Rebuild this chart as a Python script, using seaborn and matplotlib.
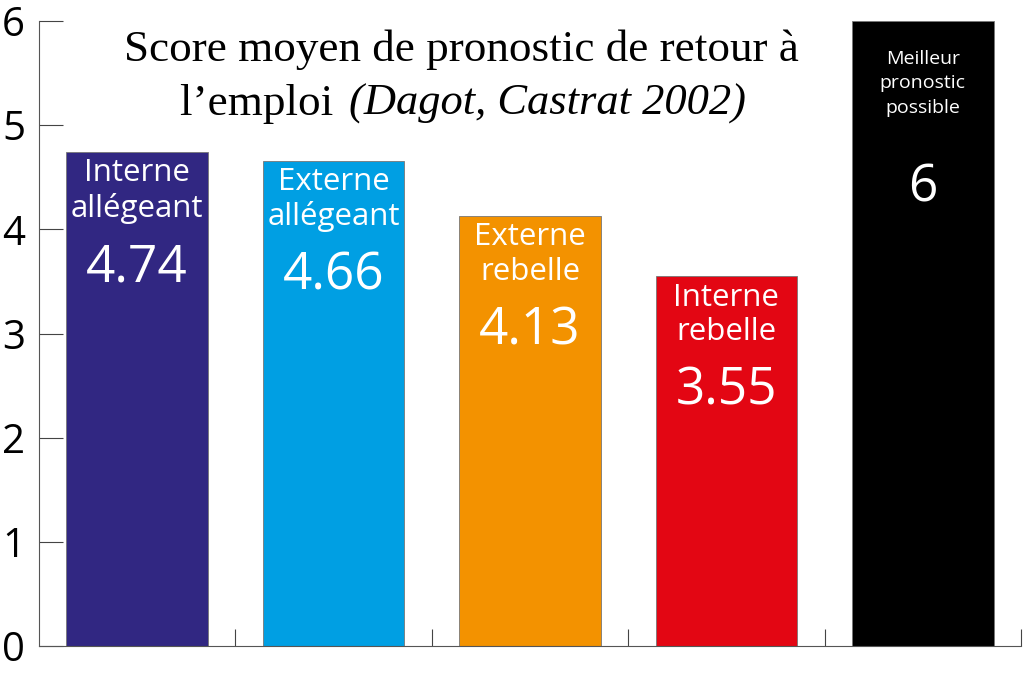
import numpy as np
import pandas as pd
import matplotlib
matplotlib.use("Agg")
import matplotlib.pyplot as plt
from matplotlib.ticker import FixedLocator
import seaborn as sns

# Données
groupes   = ["Interne\nallégeant", "Externe\nallégeant", "Externe\nrebelle",
             "Interne\nrebelle", "Meilleur\npronostic\npossible"]
scores    = [4.74, 4.66, 4.13, 3.55, 6]
etiquettes = ["4.74", "4.66", "4.13", "3.55", "6"]
couleurs  = ["#312782", "#009FE3", "#F39200", "#E30613", "#000000"]
yticks    = [0, 1, 2, 3, 4, 5, 6]

sns.set_style("ticks")
plt.rcParams["font.family"] = ["Open Sans", "DejaVu Sans"]
plt.rcParams["text.color"] = "black"
plt.rcParams["ytick.labelcolor"] = "black"

df = pd.DataFrame({"groupe": groupes, "score": scores})

fig = plt.figure(figsize=(10.24, 6.75), dpi=100)
ax = fig.add_axes([39 / 1024, 29 / 675, 982 / 1024, 625 / 675])

sns.barplot(data=df, x="groupe", y="score", hue="groupe", palette=couleurs,
            width=0.72, edgecolor="#777777", linewidth=0.6, legend=False,
            saturation=1, ax=ax)

ax.set_xlim(-0.5, len(groupes) - 0.5)
ax.set_ylim(0, 6)
ax.set_yticks(yticks)
ax.set_yticklabels([str(t) for t in yticks], fontsize=29, color="black")
ax.tick_params(axis="y", direction="in", length=17, width=0.8, pad=10,
               color="#444444")
ax.set_xticks([])
ax.xaxis.set_minor_locator(FixedLocator(np.arange(0.5, len(groupes), 1)))
ax.tick_params(axis="x", which="minor", direction="in", length=12, width=0.8,
               color="#444444")
ax.set_xlabel("")
ax.set_ylabel("")
for s in ["top", "right"]:
    ax.spines[s].set_visible(False)
for s in ["left", "bottom"]:
    ax.spines[s].set_color("#555555")
    ax.spines[s].set_linewidth(0.8)

# Etiquettes dans les barres
for i, (g, v, lab) in enumerate(zip(groupes, scores, etiquettes)):
    if i < 4:
        ax.annotate(g, (i, v), xytext=(0, -28), textcoords="offset points",
                    ha="center", va="center", color="white", fontsize=22.5,
                    linespacing=1.2)
        ax.annotate(lab, (i, v), xytext=(0, -83), textcoords="offset points",
                    ha="center", va="center", color="white", fontsize=37)
    else:
        ax.annotate(g, (i, v), xytext=(0, -45), textcoords="offset points",
                    ha="center", va="center", color="white", fontsize=14,
                    linespacing=1.45)
        ax.annotate(lab, (i, v), xytext=(0, -120), textcoords="offset points",
                    ha="center", va="center", color="white", fontsize=37)

# Titre
serif = ["Liberation Serif", "DejaVu Serif"]
fig.text(461 / 1024, 1 - 50 / 675, "Score moyen de pronostic de retour à",
         ha="center", va="center", fontsize=32.5, family=serif, color="black")
fig.text(345 / 1024, 1 - 104 / 675, "l’emploi ", ha="right", va="center",
         fontsize=32.5, family=serif, color="black")
fig.text(349 / 1024, 1 - 104 / 675, "(Dagot, Castrat 2002)", ha="left",
         va="center", fontsize=32, family=serif, style="italic", color="black")

fig.savefig("out.png", dpi=100)
